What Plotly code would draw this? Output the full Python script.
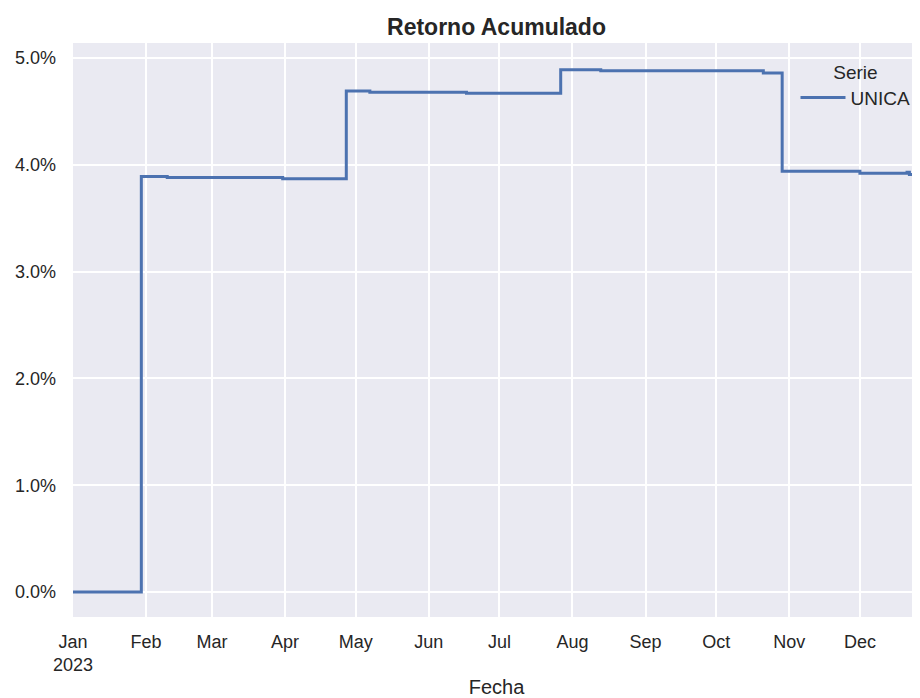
import plotly.graph_objects as go

# Step points (date, cumulative return as fraction)
fechas = ["2023-01-01", "2023-01-30", "2023-02-10", "2023-03-31", "2023-04-27",
          "2023-05-07", "2023-06-17", "2023-07-27", "2023-08-13", "2023-10-21",
          "2023-10-29", "2023-12-01", "2023-12-21", "2023-12-22", "2023-12-31"]
retorno = [0.0000, 0.0389, 0.0388, 0.0387, 0.0469,
           0.0468, 0.0467, 0.0489, 0.0488, 0.0486,
           0.0394, 0.0392, 0.0393, 0.0391, 0.0391]

tick_vals = ["2023-01-01", "2023-02-01", "2023-03-01", "2023-04-01", "2023-05-01", "2023-06-01",
             "2023-07-01", "2023-08-01", "2023-09-01", "2023-10-01", "2023-11-01", "2023-12-01"]
tick_text = ["Jan<br>2023", "Feb", "Mar", "Apr", "May", "Jun",
             "Jul", "Aug", "Sep", "Oct", "Nov", "Dec"]
y_ticks = [0.0, 0.01, 0.02, 0.03, 0.04, 0.05]

fig = go.Figure()
fig.add_trace(go.Scatter(
    x=fechas, y=retorno, mode="lines", name="UNICA",
    line=dict(color="#4C72B0", width=3, shape="hv"),
))

font_family = "Liberation Sans, Arial, sans-serif"
fig.update_layout(
    width=912, height=690,
    margin=dict(l=65, r=0, t=35, b=79),
    paper_bgcolor="white",
    plot_bgcolor="#EAEAF2",
    font=dict(family=font_family, size=18, color="#262626"),
    title=dict(text="<b>Retorno Acumulado</b>", x=0.5, xanchor="center",
               xref="paper", y=0.9725, yanchor="middle", font=dict(size=23)),
    showlegend=True,
    legend=dict(
        x=0.853, y=0.981, xanchor="left", yanchor="top",
        bgcolor="rgba(0,0,0,0)",
        itemwidth=45,
        title=dict(text="Serie", side="top center", font=dict(size=19)),
        font=dict(size=19),
    ),
)
fig.update_xaxes(
    type="date",
    range=["2023-01-01", "2023-12-26 12:00"],
    tickvals=tick_vals, ticktext=tick_text,
    showgrid=True, gridcolor="white", gridwidth=1.6,
    zeroline=False, showline=False, ticks="",
    ticklabelstandoff=12,
    title=dict(text="Fecha", standoff=9, font=dict(size=20)),
)
fig.update_yaxes(
    range=[-0.00233, 0.0514],
    tickvals=y_ticks, tickformat=".1%",
    showgrid=True, gridcolor="white", gridwidth=1.6,
    zeroline=False, showline=False, ticks="",
    ticklabelstandoff=16,
)

fig.write_html("out.html")
